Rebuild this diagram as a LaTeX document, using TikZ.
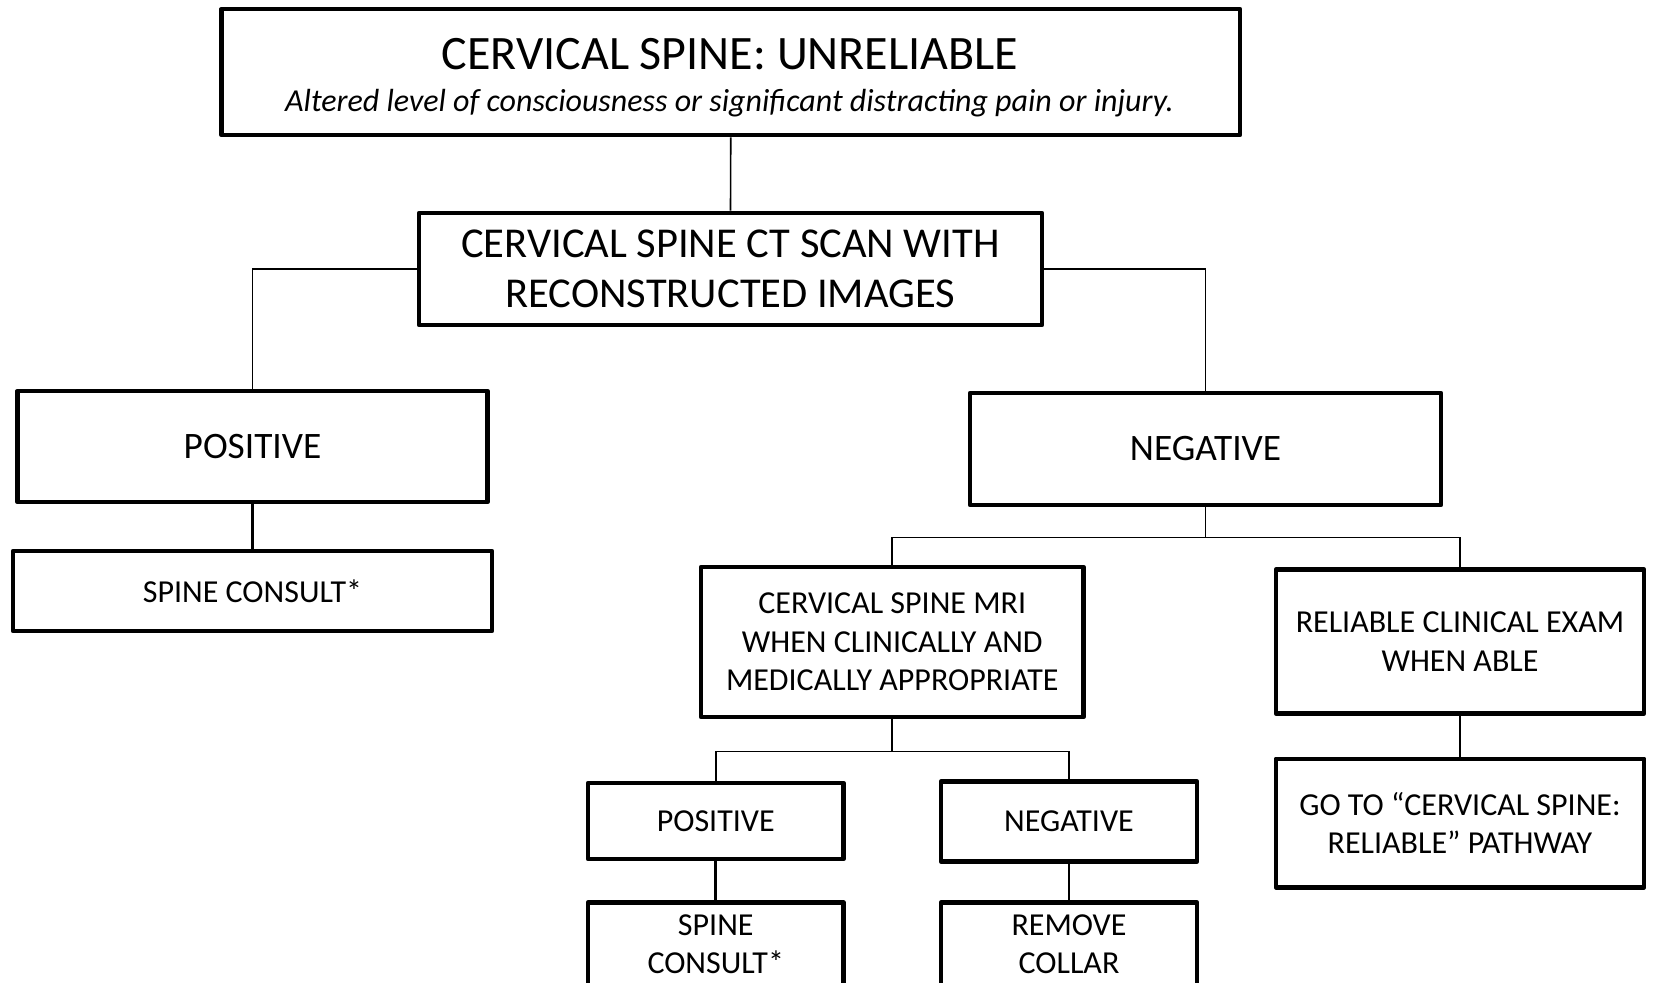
\documentclass[tikz,border=0pt]{standalone}
\usepackage{fontspec}
\setmainfont{Carlito}
\begin{document}
\begin{tikzpicture}[x=0.75pt,y=-0.75pt,
  box/.style={draw, line width=3.6pt, line join=round, inner sep=0pt, align=center},
  thin/.style={line width=1.2pt},
  link/.style={line width=2pt},
  fbig/.style={font=\fontsize{31.9}{37.5}\selectfont},
  fmid/.style={font=\fontsize{28}{34}\selectfont},
  fsm/.style={font=\fontsize{24}{28.9}\selectfont}]
\useasboundingbox (0,0) rectangle (1653,982);
% boxes
\node[box, minimum width=763.875pt, minimum height=94.5pt] (top) at (730.75,72) {};
\node[anchor=base, inner sep=0pt, font=\fontsize{36}{42}\selectfont] (title) at (730,69.5) {CERVICAL SPINE: UNRELIABLE};
\node[anchor=base, inner sep=0pt, font=\fontsize{24}{29}\selectfont\itshape] (sub) at (729.5,111.5) {Altered level of consciousness or significant distracting pain or injury.};
\node[box, fbig, minimum width=467.25pt, minimum height=84pt] (ct) at (730.5,269) {CERVICAL SPINE CT SCAN WITH\\RECONSTRUCTED IMAGES};
\node[box, fmid, minimum width=352.5pt, minimum height=83.25pt] (pos) at (252.5,446.5) {POSITIVE};
\node[box, fmid, minimum width=353.25pt, minimum height=84pt] (neg) at (1205.5,449) {NEGATIVE};
\node[box, fsm, minimum width=359.25pt, minimum height=60pt] (sc) at (252.5,591) {SPINE CONSULT*};
\node[box, fsm, minimum width=286.875pt, minimum height=112.5pt] (mri) at (892.25,642) {CERVICAL SPINE MRI\\WHEN CLINICALLY AND\\MEDICALLY APPROPRIATE};
\node[box, fsm, minimum width=276pt, minimum height=107.5pt] (rc) at (1460,641.5) {RELIABLE CLINICAL EXAM\\WHEN ABLE};
\node[box, fsm, minimum width=276pt, minimum height=96.15pt] (go) at (1460,823) {GO TO “CERVICAL SPINE:\\RELIABLE” PATHWAY};
\node[box, fsm, minimum width=191.6pt, minimum height=57pt] (pos2) at (715.75,821) {POSITIVE};
\node[box, fsm, minimum width=192pt, minimum height=60pt] (neg2) at (1069,821.5) {NEGATIVE};
\node[box, fsm, minimum width=191.6pt, minimum height=62.25pt] (sp2) at (715.75,944) {SPINE\\CONSULT*};
\node[box, fsm, minimum width=192pt, minimum height=62.25pt] (rm) at (1069,944) {REMOVE\\COLLAR};
% connectors
\draw[thin] (top.south) -- (ct.north);
\draw[thin] (ct.west) -| (pos.north);
\draw[thin] (ct.east) -| (neg.north);
\draw[link] (pos.south) -- (sc.north);
\path (neg.south) ++(0,30) coordinate (j1);
\draw[thin] (neg.south) -- (j1) -| (mri.north);
\draw[thin] (j1) -| (rc.north);
\path (mri.south) ++(0,32) coordinate (j2);
\draw[thin] (mri.south) -- (j2) -| (pos2.north);
\draw[thin] (j2) -| (neg2.north);
\draw[link] (pos2.south) -- (sp2.north);
\draw[link] (neg2.south) -- (rm.north);
\draw[link] (rc.south) -- (go.north);
\end{tikzpicture}
\end{document}
